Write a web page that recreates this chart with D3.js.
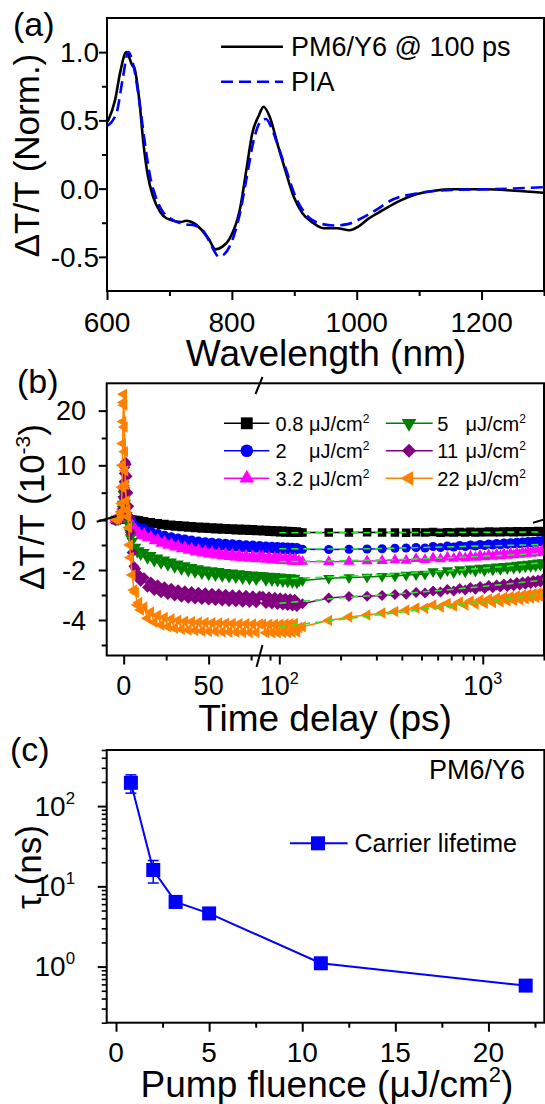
<!DOCTYPE html>
<html><head><meta charset="utf-8">
<script src="https://cdn.jsdelivr.net/npm/d3@7"></script>
<style>
body{margin:0;background:#fff}
svg{display:block;font-family:"Liberation Sans",Arial,Helvetica,sans-serif}
</style></head><body>
<svg id="fig" width="545" height="1104"></svg>
<script>
// ---------- Panel (a): normalized transient spectra ----------
const wlFilm = [601,613,621,631,641,643.4,651.7,658.4,665.6,674,685,696.2,718.5,726.8,738,749,763,774,785,796,813,824,832.5,843.6,850.8,860.3,874.2,885.3,899.2,913,929.8,946.5,968.7,988.2,1002,1018.8,1041,1068.8,1096.6,1124.4,1152.2,1207.8,1252,1298.5];
const dtFilm = [0.49,0.65,0.85,1.0,0.9,0.89,0.65,0.33,0.09,-0.06,-0.17,-0.22,-0.245,-0.235,-0.25,-0.29,-0.37,-0.445,-0.425,-0.37,-0.15,0.16,0.40,0.54,0.60,0.53,0.31,0.14,-0.06,-0.18,-0.25,-0.29,-0.29,-0.305,-0.28,-0.22,-0.16,-0.09,-0.04,-0.015,-0.005,-0.005,-0.015,-0.03];
const wlPIA = [601,615.6,625,634,643.4,653,661.7,669.5,678,688,701.8,724,740.7,757.4,768.5,779.6,788,796.3,813,824.1,835.3,847.5,854.7,863,874.2,885.3,902,918.7,941,963.2,985.4,1002,1029.9,1057.7,1096.6,1152.2,1207.8,1298.5];
const dtPIA = [0.46,0.56,0.80,1.0,0.88,0.60,0.30,0.08,-0.06,-0.16,-0.22,-0.26,-0.27,-0.33,-0.43,-0.50,-0.48,-0.425,-0.18,0.09,0.36,0.50,0.51,0.45,0.31,0.16,-0.06,-0.19,-0.255,-0.27,-0.26,-0.23,-0.16,-0.08,-0.035,-0.01,-0.005,0.01];
const spectraNames = ["PM6/Y6 @ 100 ps", "PIA"];
const wlTicks = [600, 800, 1000, 1200];
const wlMinor = [700, 900, 1100, 1300];
const normTicks = [-0.5, 0, 0.5, 1.0];
const normMinor = [-0.25, 0.25, 0.75];

// ---------- Panel (b): fluence-dependent kinetics ----------
const fluenceNames = ["0.8", "2", "3.2", "5", "11", "22"];
const timeEarly = [-5,-4,-3,-2,-1.5,-1.2,-1,-0.8,-0.6,-0.4,-0.2,0,0.2,0.4,0.6,0.8,1,1.5,2,2.5,3,3.5,4,5,6,7,8,9,10,12,14,16,18,20,22,24,26,28,30,32,34,36,38,40,42,44,46,48,50,52,54,56,58,60,62,64,66,68,70,72,74,76,78,80,83,86,89,92,95,98,101,104,107,110,113,116,119,122,125];
const timeLate = [130,175,220,270,320,370,420,470,520,570,620,670,720,770,820,870,920,970,1020,1070,1120,1170,1220,1270,1320,1370,1420,1470,1520,1570,1620,1670,1720,1770,1820,1870,1920,1970];

const early08 = [0,0.02,0.05,0.1,0.15,0.2,0.3,0.5,0.8,1.1,1.4,1.5,1.4,1.2,1.0,0.8,0.65,0.45,0.3,0.2,0.12,0.08,0.05,
  0.05,0.0,0.02,-0.04,-0.01,-0.07,
  -0.05,-0.12,-0.09,-0.16,-0.13,-0.2,-0.16,-0.23,-0.19,-0.26,-0.21,-0.28,-0.23,-0.3,-0.25,-0.32,-0.27,-0.34,-0.28,-0.35,-0.3,-0.37,-0.31,-0.38,-0.33,-0.39,-0.34,-0.41,-0.35,-0.42,-0.36,-0.43,-0.37,-0.44,-0.39,
  -0.45,-0.4,-0.47,-0.41,-0.48,-0.42,-0.49,-0.43,-0.5,-0.44,-0.5,-0.45,-0.51,-0.46,-0.5];
const early2 = [0,0.03,0.08,0.15,0.25,0.4,0.6,1.0,1.5,2.0,2.5,2.9,2.7,2.3,1.9,1.5,1.2,0.8,0.5,0.3,0.15,0.05,-0.02,
  -0.05,-0.18,-0.2,-0.3,-0.3,-0.4,
  -0.34,-0.51,-0.44,-0.61,-0.54,-0.69,-0.61,-0.76,-0.67,-0.82,-0.72,-0.86,-0.76,-0.9,-0.8,-0.94,-0.84,-0.97,-0.87,-1.0,-0.89,-1.02,-0.91,-1.04,-0.93,-1.06,-0.95,-1.08,-0.97,-1.1,-0.99,-1.11,-1.0,-1.13,-1.02,
  -1.15,-1.04,-1.16,-1.05,-1.18,-1.06,-1.19,-1.07,-1.2,-1.08,-1.21,-1.09,-1.22,-1.1,-1.17];
const early32 = [0,0.03,0.08,0.18,0.3,0.5,0.8,1.3,1.9,2.6,3.2,3.7,3.6,3.2,2.7,2.2,1.8,1.2,0.8,0.45,0.2,0.0,-0.12,
  -0.2,-0.36,-0.38,-0.52,-0.5,-0.64,
  -0.54,-0.72,-0.66,-0.84,-0.77,-0.94,-0.86,-1.02,-0.94,-1.09,-1.01,-1.16,-1.07,-1.22,-1.13,-1.28,-1.18,-1.33,-1.23,-1.37,-1.27,-1.41,-1.31,-1.44,-1.34,-1.47,-1.36,-1.5,-1.39,-1.52,-1.41,-1.54,-1.43,-1.56,-1.44,
  -1.45,-1.58,-1.47,-1.6,-1.49,-1.61,-1.5,-1.63,-1.52,-1.64,-1.53,-1.66,-1.54,-1.67,-1.62];
const early5 = [0,0.04,0.1,0.25,0.45,0.8,1.3,2.0,2.9,3.8,4.7,5.5,5.8,5.4,4.7,3.9,3.1,1.8,0.8,0.2,-0.2,-0.5,-0.7,
  -0.85,-1.1,-1.08,-1.28,-1.22,-1.38,
  -1.29,-1.53,-1.41,-1.64,-1.51,-1.73,-1.59,-1.81,-1.67,-1.89,-1.75,-1.97,-1.82,-2.04,-1.89,-2.09,-1.94,-2.14,-1.99,-2.19,-2.02,-2.22,-2.05,-2.25,-2.09,-2.28,-2.11,-2.3,-2.14,-2.34,-2.17,-2.36,-2.19,-2.38,-2.21,
  -2.22,-2.41,-2.24,-2.42,-2.25,-2.44,-2.27,-2.46,-2.29,-2.47,-2.3,-2.49,-2.32,-2.51,-2.43];
const early11 = [0,0.05,0.1,0.2,0.3,0.5,0.8,1.3,2.0,3.0,4.2,5.5,7.0,8.5,9.6,10.3,10.6,10.2,8.0,5.0,2.5,0.6,-0.5,
  -1.3,-1.85,-1.95,-2.3,-2.2,-2.45,
  -2.31,-2.69,-2.48,-2.82,-2.59,-2.91,-2.67,-2.98,-2.73,-3.04,-2.79,-3.09,-2.83,-3.13,-2.86,-3.16,-2.89,-3.18,-2.91,-3.2,-2.93,-3.22,-2.95,-3.24,-2.97,-3.26,-2.99,-3.27,-3.0,-3.29,-3.01,-3.3,-3.03,-3.31,-3.04,
  -3.05,-3.34,-3.07,-3.36,-3.09,-3.38,-3.11,-3.4,-3.13,-3.42,-3.15,-3.44,-3.17,-3.46,-3.35];
const early22 = [0.1,0.2,0.4,0.8,1.5,3,6,10,14,18,21.5,23,21,17,12.5,9,6.5,3.5,1.8,0.6,-0.3,-1.0,-1.5,
  -2.2,-2.8,-2.9,-3.4,-3.3,-3.6,
  -3.48,-3.93,-3.68,-4.09,-3.81,-4.2,-3.9,-4.27,-3.96,-4.33,-4.01,-4.37,-4.05,-4.4,-4.07,-4.42,-4.09,-4.44,-4.1,-4.45,-4.11,-4.46,-4.12,-4.47,-4.13,-4.48,-4.14,-4.48,-4.15,-4.49,-4.15,-4.5,-4.16,-4.5,-4.16,
  -4.17,-4.51,-4.17,-4.51,-4.17,-4.51,-4.17,-4.5,-4.16,-4.5,-4.15,-4.49,-4.14,-4.48,-4.3];

const late08 = [-0.5,-0.5,-0.5,-0.49,-0.5,-0.5,-0.51,-0.49,-0.5,-0.48,-0.51,-0.49,-0.5,-0.48,-0.5,-0.47,-0.5,-0.48,-0.49,-0.46,-0.49,-0.47,-0.49,-0.46,-0.48,-0.46,-0.49,-0.45,-0.48,-0.46,-0.48,-0.45,-0.47,-0.45,-0.47,-0.44,-0.47,-0.45];
const late2 = [-1.17,-1.18,-1.17,-1.16,-1.15,-1.13,-1.12,-1.1,-1.12,-1.06,-1.1,-1.04,-1.08,-1.02,-1.06,-1.0,-1.04,-0.98,-1.02,-0.96,-1.0,-0.94,-0.99,-0.92,-0.97,-0.91,-0.95,-0.89,-0.94,-0.88,-0.92,-0.86,-0.91,-0.85,-0.89,-0.83,-0.87,-0.82];
const late32 = [-1.66,-1.67,-1.66,-1.64,-1.63,-1.6,-1.62,-1.55,-1.59,-1.52,-1.56,-1.49,-1.54,-1.47,-1.52,-1.45,-1.5,-1.42,-1.48,-1.4,-1.46,-1.38,-1.44,-1.36,-1.42,-1.34,-1.4,-1.32,-1.38,-1.3,-1.36,-1.28,-1.34,-1.26,-1.32,-1.24,-1.3,-1.22];
const late5 = [-2.42,-2.33,-2.3,-2.28,-2.25,-2.24,-2.2,-2.18,-2.16,-2.06,-2.14,-2.02,-2.1,-1.98,-2.07,-1.95,-2.04,-1.92,-2.02,-1.9,-1.99,-1.87,-1.97,-1.85,-1.94,-1.83,-1.92,-1.8,-1.9,-1.78,-1.87,-1.76,-1.85,-1.74,-1.83,-1.71,-1.8,-1.7];
const late11 = [-3.35,-3.12,-3.06,-3.05,-3.02,-2.98,-2.97,-2.9,-2.92,-2.84,-2.88,-2.78,-2.84,-2.74,-2.8,-2.7,-2.77,-2.66,-2.74,-2.62,-2.71,-2.6,-2.68,-2.56,-2.66,-2.54,-2.63,-2.5,-2.6,-2.48,-2.57,-2.45,-2.54,-2.42,-2.5,-2.4,-2.48,-2.36];
const late22 = [-4.27,-4.02,-3.88,-3.8,-3.72,-3.66,-3.6,-3.52,-3.53,-3.4,-3.48,-3.34,-3.44,-3.28,-3.4,-3.24,-3.36,-3.2,-3.33,-3.16,-3.3,-3.12,-3.27,-3.09,-3.24,-3.06,-3.21,-3.03,-3.18,-3.0,-3.15,-2.97,-3.12,-2.95,-3.09,-2.92,-3.06,-2.88];

const fitTime = [100, 200, 500, 1000, 2000];
const fit08 = [-0.51,-0.51,-0.5,-0.49,-0.48];
const fit2  = [-1.15,-1.16,-1.1,-1.04,-0.98];
const fit32 = [-1.67,-1.63,-1.55,-1.45,-1.33];
const fit5  = [-2.35,-2.26,-2.1,-1.93,-1.7];
const fit11 = [-3.33,-3.12,-2.88,-2.66,-2.4];
const fit22 = [-4.27,-3.98,-3.58,-3.28,-2.97];

const kinColors = ["#000000", "#0000ff", "#ff00ff", "#008000", "#800080", "#ff8000"];
const linTicks = [0, 50], linMinor = [25, 75];
const logTicks = [100, 1000], logMinor = [90,200,300,400,500,600,700,800,900,2000];
const dtTicks = [20, 10, 0, -2, -4], dtMinor = [15, 5, -1, -3, -5];

// ---------- Panel (c): carrier lifetime ----------
const pumpFluence = [0.8, 2, 3.2, 5, 11, 22];
const lifetimeNs  = [195, 16, 6.4, 4.6, 1.1, 0.58];
const lifetimeErr = [50, 5, 1.0, 0.6, 0.1, 0.05];
const fluTicks = [0, 5, 10, 15, 20], fluMinor = [2.5, 7.5, 12.5, 17.5, 22.5];
const tauTicks = [1, 10, 100];
const tauMinor = [0.2,0.3,0.4,0.5,0.6,0.7,0.8,0.9,2,3,4,5,6,7,8,9,20,30,40,50,60,70,80,90,200,300,400,500];

// ======================================================
const svg = d3.select("#fig");

function frame(x0, y0, x1, y1) {
  svg.append("rect").attr("x", x0).attr("y", y0)
    .attr("width", x1 - x0).attr("height", y1 - y0)
    .attr("fill", "none").attr("stroke", "#000").attr("stroke-width", 2);
}
function tickSet(axisFn, scale, values, size, tx, ty, w) {
  const g = svg.append("g").attr("transform", `translate(${tx},${ty})`)
    .call(axisFn(scale).tickValues(values).tickSize(size).tickFormat(""));
  g.select(".domain").remove();
  g.selectAll(".tick line").attr("stroke", "#000").attr("stroke-width", w);
  return g;
}
function label(x, y, txt, size, anchor) {
  return svg.append("text").attr("x", x).attr("y", y).attr("font-size", size)
    .attr("text-anchor", anchor || "middle").attr("fill", "#000").text(txt);
}
function powLabel(x, y, exp, size, anchor) {
  const t = svg.append("text").attr("x", x).attr("y", y).attr("font-size", size)
    .attr("text-anchor", anchor || "middle").attr("fill", "#000");
  t.append("tspan").text("10");
  t.append("tspan").attr("font-size", size * 0.6).attr("dy", -size * 0.42).text(exp);
  return t;
}
function clip(id, x0, y0, x1, y1) {
  svg.append("clipPath").attr("id", id).append("rect")
    .attr("x", x0).attr("y", y0).attr("width", x1 - x0).attr("height", y1 - y0);
}

// ---------------- (a) ----------------
const aL = 107, aR = 544, aT = 18, aB = 291;
const xA = d3.scaleLinear().domain([600, 1300]).range([aL, aR]);
const yA = d3.scaleLinear().domain([-0.75, 1.25]).range([aB, aT]);
clip("clipA", aL, aT, aR, aB);
const lineA = d3.line().x(d => xA(d[0])).y(d => yA(d[1])).curve(d3.curveMonotoneX);
const gA = svg.append("g").attr("clip-path", "url(#clipA)");
gA.append("path").attr("d", lineA(d3.zip(wlFilm, dtFilm)))
  .attr("fill", "none").attr("stroke", "#000").attr("stroke-width", 2.6);
gA.append("path").attr("d", lineA(d3.zip(wlPIA, dtPIA)))
  .attr("fill", "none").attr("stroke", "#0000ff").attr("stroke-width", 2.6)
  .attr("stroke-dasharray", "12,6");
frame(aL, aT, aR, aB);
tickSet(d3.axisBottom, xA, wlTicks, 9, 0, aB, 2);
tickSet(d3.axisBottom, xA, wlMinor, 5, 0, aB, 2);
tickSet(d3.axisLeft, yA, normTicks, 8, aL, 0, 2);
tickSet(d3.axisLeft, yA, normMinor, 5, aL, 0, 2);
wlTicks.forEach(v => label(xA(v), aB + 40.5, v, 28));
normTicks.forEach(v => label(99, yA(v) + 10, v.toFixed(1), 28, "end"));
label(326, 366, "Wavelength (nm)", 37);
svg.append("text").attr("transform", `translate(39,${(aT + aB) / 2 + 1}) rotate(-90)`)
  .attr("font-size", 35).attr("text-anchor", "middle").text("ΔT/T (Norm.)");
label(13, 36, "(a)", 34, "start");
// legend
[0, 1].forEach(i => {
  const y = 46.7 + i * 35;
  svg.append("line").attr("x1", 221).attr("x2", 283).attr("y1", y).attr("y2", y)
    .attr("stroke", i ? "#0000ff" : "#000").attr("stroke-width", 2.6)
    .attr("stroke-dasharray", i ? "12,6" : null);
  label(291, y + 9.7, spectraNames[i], 27, "start");
});

// ---------------- (b) ----------------
const bL = 106.7, bR = 544, bT = 383.3, bB = 655.5, bBreak = 259.6;
const xLin = d3.scaleLinear().domain([-10, 80]).range([bL, bBreak]);
const xLog = d3.scaleLog().domain([80, 2000]).range([bBreak, bR]);
const xB = t => (t <= 80 ? xLin(t) : xLog(t));
const yB = d3.scaleLinear().domain([-5.42, 0, 25]).range([bB, 520, bT]);
clip("clipB", bL, bT, bR, bB);

const earlySets = [early08, early2, early32, early5, early11, early22];
const lateSets  = [late08, late2, late32, late5, late11, late22];
const fitSets   = [fit08, fit2, fit32, fit5, fit11, fit22];
const markerDefs = [
  { type: d3.symbolSquare,   rot: 0,   size: 72,  legend: 140 },
  { type: d3.symbolCircle,   rot: 0,   size: 66,  legend: 125 },
  { type: d3.symbolTriangle, rot: 0,   size: 56,  legend: 95 },
  { type: d3.symbolTriangle, rot: 180, size: 56,  legend: 95 },
  { type: d3.symbolSquare,   rot: 45,  size: 60,  legend: 100 },
  { type: d3.symbolTriangle, rot: -90, size: 56,  legend: 95 },
];
const gB = svg.append("g").attr("clip-path", "url(#clipB)");
const lineB = d3.line().x(d => xB(d[0])).y(d => yB(d[1]));
earlySets.forEach((early, i) => {
  const pts = d3.zip(timeEarly, early).concat(d3.zip(timeLate, lateSets[i]));
  const col = kinColors[i], m = markerDefs[i];
  const g = gB.append("g");
  g.append("path").attr("d", lineB(pts)).attr("fill", "none")
    .attr("stroke", col).attr("stroke-width", 1.5);
  const sym = d3.symbol().type(m.type).size(m.size);
  g.selectAll("path.mk").data(pts).join("path").attr("class", "mk")
    .attr("d", sym)
    .attr("transform", d => `translate(${xB(d[0])},${yB(d[1])}) rotate(${m.rot})`)
    .attr("fill", col);
});
const fitLine = d3.line().x(d => xB(d[0])).y(d => yB(d[1])).curve(d3.curveMonotoneX);
fitSets.forEach(f => {
  gB.append("path").attr("d", fitLine(d3.zip(fitTime, f))).attr("fill", "none")
    .attr("stroke", "#22ee22").attr("stroke-width", 1.6).attr("stroke-dasharray", "7,5");
});
frame(bL, bT, bR, bB);
tickSet(d3.axisBottom, xLin, linTicks, 9, 0, bB, 2);
tickSet(d3.axisBottom, xLin, linMinor, 5, 0, bB, 2);
tickSet(d3.axisBottom, xLog, logTicks, 9, 0, bB, 2);
tickSet(d3.axisBottom, xLog, logMinor, 5, 0, bB, 2);
tickSet(d3.axisLeft, yB, dtTicks, 8, bL, 0, 2);
tickSet(d3.axisLeft, yB, dtMinor, 5, bL, 0, 2);
linTicks.forEach(v => label(xLin(v), 695, v, 27));
logTicks.forEach(v => powLabel(xLog(v), 695, String(Math.round(Math.log10(v))), 27));
dtTicks.forEach(v => label(86, yB(v) + 9.5, v, 27, "end"));
// axis-break marks
[[255.5, 394, 262.5, 377], [256.5, 667, 262.5, 645], [96.7, 521.7, 116.7, 516], [533, 522.7, 553, 517]]
  .forEach(s => svg.append("line").attr("x1", s[0]).attr("y1", s[1]).attr("x2", s[2]).attr("y2", s[3])
    .attr("stroke", "#000").attr("stroke-width", 2));
label(325, 731, "Time delay (ps)", 37);
{
  const t = svg.append("text").attr("transform", `translate(44,507) rotate(-90)`)
    .attr("font-size", 35).attr("text-anchor", "middle");
  t.append("tspan").text("ΔT/T (10");
  t.append("tspan").attr("font-size", 21).attr("dy", -14).text("-3");
  t.append("tspan").attr("dy", 14).text(")");
}
label(17, 393, "(b)", 34, "start");
// legend (two columns)
fluenceNames.forEach((name, i) => {
  const col = Math.floor(i / 3), row = i % 3;
  const y = [423.3, 450.7, 478.3][row];
  const lx0 = col ? 385.8 : 224, lx1 = col ? 432.7 : 269.4, mx = col ? 409 : 246.8;
  const tx = col ? 437.3 : 275.6, ux = col ? 465.5 : 309;
  svg.append("line").attr("x1", lx0).attr("x2", lx1).attr("y1", y).attr("y2", y)
    .attr("stroke", kinColors[i]).attr("stroke-width", 1.6);
  const m = markerDefs[i];
  svg.append("path").attr("d", d3.symbol().type(m.type).size(m.legend)())
    .attr("transform", `translate(${mx},${y}) rotate(${m.rot})`).attr("fill", kinColors[i]);
  label(tx, y + 7.2, name, 20, "start");
  const u = svg.append("text").attr("x", ux).attr("y", y + 7.2).attr("font-size", 20);
  u.append("tspan").text("μJ/cm");
  u.append("tspan").attr("font-size", 12).attr("dy", -8).text("2");
});

// ---------------- (c) ----------------
const cL = 106.7, cR = 544.3, cT = 750, cB = 1022.7;
const xC = d3.scaleLinear().domain([-0.5, 23]).range([cL, cR]);
const yC = d3.scaleLog().domain([0.2, 500]).range([cB, cT]);
const tauPts = d3.zip(pumpFluence, lifetimeNs, lifetimeErr);
const gC = svg.append("g");
tauPts.forEach(d => {
  const x = xC(d[0]), y0 = yC(d[1] - d[2]), y1 = yC(d[1] + d[2]);
  gC.append("line").attr("x1", x).attr("x2", x).attr("y1", y0).attr("y2", y1)
    .attr("stroke", "#0000ff").attr("stroke-width", 1.5);
  [y0, y1].forEach(yy => gC.append("line").attr("x1", x - 5.5).attr("x2", x + 5.5)
    .attr("y1", yy).attr("y2", yy).attr("stroke", "#0000ff").attr("stroke-width", 1.5));
});
gC.append("path").attr("d", d3.line().x(d => xC(d[0])).y(d => yC(d[1]))(tauPts))
  .attr("fill", "none").attr("stroke", "#0000ff").attr("stroke-width", 2);
gC.selectAll("rect.sq").data(tauPts).join("rect").attr("class", "sq")
  .attr("x", d => xC(d[0]) - 7).attr("y", d => yC(d[1]) - 7)
  .attr("width", 14).attr("height", 14).attr("fill", "#0000ff");
frame(cL, cT, cR, cB);
tickSet(d3.axisBottom, xC, fluTicks, 9, 0, cB, 2);
tickSet(d3.axisBottom, xC, fluMinor, 5, 0, cB, 2);
tickSet(d3.axisLeft, yC, tauTicks, 9, cL, 0, 2);
tickSet(d3.axisLeft, yC, tauMinor, 5, cL, 0, 1.6);
fluTicks.forEach(v => label(xC(v), 1061.5, v, 28));
tauTicks.forEach(v => powLabel(75, yC(v) + 9.5, String(Math.round(Math.log10(v))), 28, "end"));
{
  const t = svg.append("text").attr("x", 327).attr("y", 1097).attr("font-size", 37).attr("text-anchor", "middle");
  t.append("tspan").text("Pump fluence (μJ/cm");
  t.append("tspan").attr("font-size", 22).attr("dy", -15).text("2");
  t.append("tspan").attr("dy", 15).text(")");
}
svg.append("text").attr("transform", `translate(41,867) rotate(-90)`)
  .attr("font-size", 35).attr("text-anchor", "middle").text("τ (ns)");
label(10, 761, "(c)", 34, "start");
label(525, 779, "PM6/Y6", 27, "end");
svg.append("line").attr("x1", 290).attr("x2", 347.6).attr("y1", 843.3).attr("y2", 843.3)
  .attr("stroke", "#0000ff").attr("stroke-width", 2);
svg.append("rect").attr("x", 318 - 7).attr("y", 843.3 - 7).attr("width", 14).attr("height", 14).attr("fill", "#0000ff");
label(354.5, 852, "Carrier lifetime", 25, "start");
</script>
</body></html>
